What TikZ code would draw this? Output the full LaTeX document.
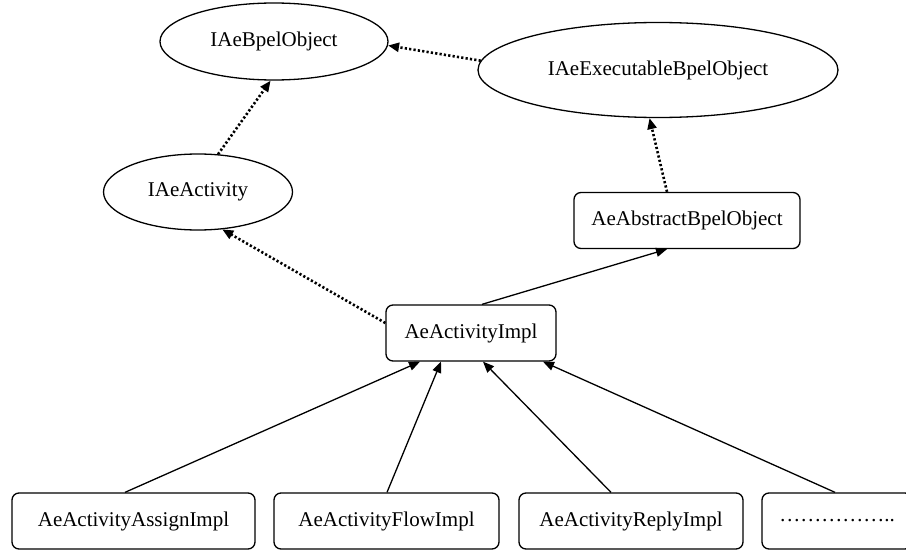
\documentclass[tikz,border=0pt]{standalone}
\usepackage{fontspec}
\setmainfont{Liberation Serif}
\usetikzlibrary{arrows.meta,shapes.geometric}

\tikzset{
  label font/.style={font=\fontsize{21}{25}\selectfont},
  iface/.style={draw, ellipse, line width=1.3pt, inner sep=0pt, label font},
  classbox/.style={draw, rectangle, rounded corners=7pt, line width=1.3pt,
    inner sep=0pt, minimum height=56pt, label font},
  extends/.style={line width=1.3pt, -{Triangle[length=11pt,width=9pt]}},
  realizes/.style={line width=2.6pt, dash pattern=on 2.2pt off 2.2pt,
    -{Triangle[length=11pt,width=9pt]}}
}

\begin{document}
\begin{tikzpicture}[x=1pt,y=-1pt]
  \clip (0,0) rectangle (906,551);
  \fill[white] (0,0) rectangle (906,551);

  % interfaces
  \node[iface, minimum width=228pt, minimum height=77pt] (bpel) at (274,41.5) {IAeBpelObject};
  \node[iface, minimum width=360pt, minimum height=95pt] (exec) at (658,70) {IAeExecutableBpelObject};
  \node[iface, minimum width=189pt, minimum height=76pt] (act) at (198,192) {IAeActivity};

  % classes
  \node[classbox, minimum width=226pt] (abs) at (687,220.5) {AeAbstractBpelObject};
  \node[classbox, minimum width=170pt] (impl) at (471,333) {AeActivityImpl};
  \node[classbox, minimum width=243pt] (assign) at (133.5,521) {AeActivityAssignImpl};
  \node[classbox, minimum width=225pt] (flow) at (386.5,521) {AeActivityFlowImpl};
  \node[classbox, minimum width=224pt] (reply) at (631,521) {AeActivityReplyImpl};
  \node[classbox, minimum width=150pt] (more) at (837,521) {……………..};

  % interface realisation
  \draw[realizes] (exec.177) -- (bpel.-2);
  \draw[realizes] (act.62) -- (bpel.-95);
  \draw[realizes] ([xshift=-20pt]abs.north) -- (exec.-100);
  \draw[realizes] ([yshift=10pt]impl.west) -- (act.-57);

  % inheritance
  \draw[extends] ([xshift=11pt]impl.north) -- ([xshift=-20pt]abs.south);
  \draw[extends] ([xshift=-8.5pt]assign.north) -- ([xshift=-51pt]impl.south);
  \draw[extends] ([xshift=0.5pt]flow.north) -- ([xshift=-30pt]impl.south);
  \draw[extends] ([xshift=-20pt]reply.north) -- ([xshift=12pt]impl.south);
  \draw[extends] ([xshift=-2pt]more.north) -- ([xshift=72pt]impl.south);
\end{tikzpicture}
\end{document}
